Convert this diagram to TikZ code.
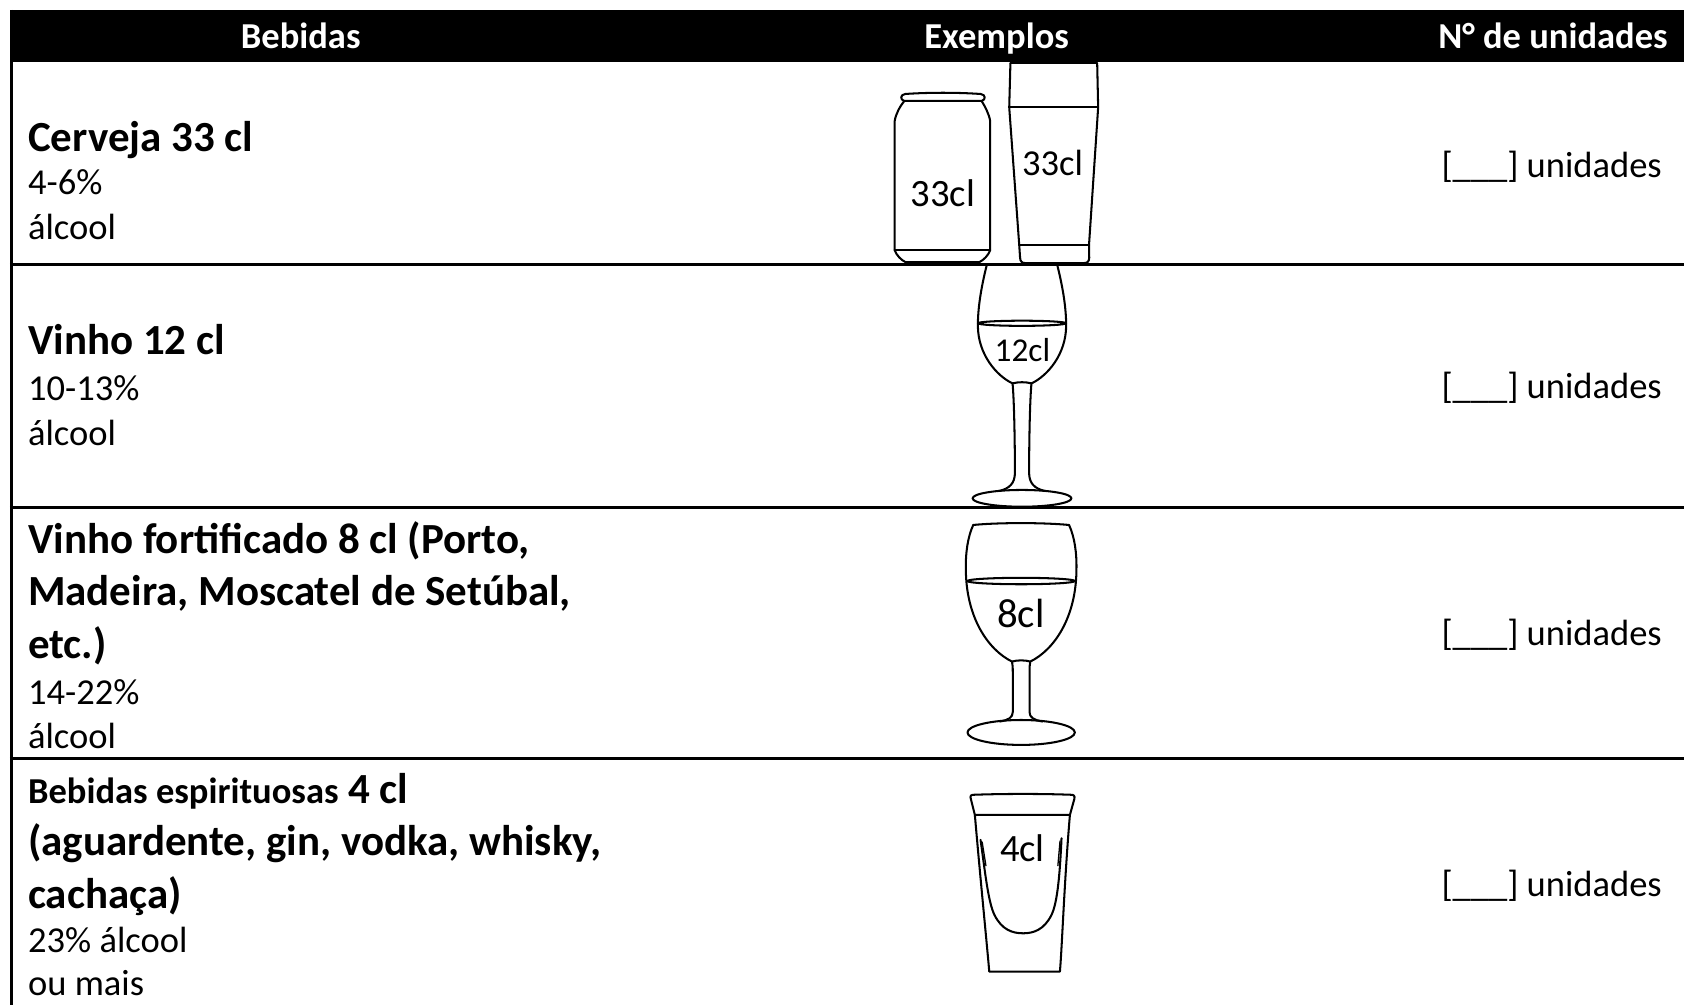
\documentclass[tikz,border=0pt]{standalone}
\usepackage{fontspec}
\setmainfont{Carlito}
\begin{document}
\begin{tikzpicture}[x=1pt,y=-1pt,
  hd/.style={text=white,font=\bfseries\fontsize{34}{40}\selectfont,anchor=base,inner sep=0},
  bt/.style={font=\bfseries\fontsize{40}{48}\selectfont,anchor=base west,inner sep=0},
  bs/.style={font=\bfseries\fontsize{34}{41}\selectfont,anchor=base west,inner sep=0},
  nt/.style={font=\fontsize{34}{41}\selectfont,anchor=base west,inner sep=0},
  un/.style={font=\fontsize{34}{41}\selectfont,anchor=base west,inner sep=0},
  lbl/.style={font=\fontsize{36}{40}\selectfont,inner sep=0},
  rule/.style={line width=2.8pt},
  gl/.style={line width=1.9pt,line join=round,line cap=round}]
\useasboundingbox (0,0) rectangle (1568,936);
% header
\fill[black] (9.3,9.3) rectangle (1568,57.7);
\node[hd] (h1) at (280,45) {Bebidas};
\node[hd] (h2) at (928,45) {Exemplos};
\node[hd] (h3) at (1446,45) {N° de unidades};
% borders
\draw[rule] (10.7,9.3) -- (10.7,936);
\draw[rule] (9.3,246) -- (1568,246);
\draw[rule] (9.3,473) -- (1568,473);
\draw[rule] (9.3,706) -- (1568,706);
% row 1
\node[bt] (r1a) at (26,141) {Cerveja 33 cl};
\node[nt] (r1b) at (26,181) {4-6\%};
\node[nt] (r1c) at (26,223) {álcool};
\node[un] (u1) at (1342,165) {[\_\_\_] unidades};
% row 2
\node[bt] (r2a) at (26,330) {Vinho 12 cl};
\node[nt] (r2b) at (26,373) {10-13\%};
\node[nt] (r2c) at (26,415) {álcool};
\node[un] (u2) at (1342,371) {[\_\_\_] unidades};
% row 3
\node[bt] (r3a) at (26,515) {Vinho fortificado 8 cl (Porto,};
\node[bt] (r3b) at (26,564) {Madeira, Moscatel de Setúbal,};
\node[bt] (r3c) at (26,613) {etc.)};
\node[nt] (r3d) at (26,656) {14-22\%};
\node[nt] (r3e) at (26,697) {álcool};
\node[un] (u3) at (1342,601) {[\_\_\_] unidades};
% row 4
\node[bt] (r4a) at (26,748) {{\fontsize{34}{41}\selectfont Bebidas espirituosas} 4 cl};
\node[bt] (r4b) at (26,797) {(aguardente, gin, vodka, whisky,};
\node[bt] (r4c) at (26,846) {cachaça)};
\node[nt] (r4d) at (26,887) {23\% álcool};
\node[nt] (r4e) at (26,927) {ou mais};
\node[un] (u4) at (1342,835) {[\_\_\_] unidades};
% can
\draw[gl] (842,94) .. controls (838,99) and (834,106) .. (833,113) -- (833,233) .. controls (835,238) and (839,242) .. (843,244) -- (912,244) .. controls (916,242) and (920,238) .. (922,233) -- (922,113) .. controls (921,106) and (917,99) .. (914,94);
\draw[gl] (842,94) .. controls (838,93) and (838,88) .. (843,87.5) .. controls (865,86) and (891,86) .. (913,87.5) .. controls (918,88) and (918,93) .. (914,94) -- cycle;
\draw[gl] (833,233) -- (922,233);
\node[lbl] (lcan) at (878,180) {33cl};
% pint
\draw[gl] (940.8,59) -- (1021.6,59);
\draw[gl] (940.8,59) -- (939.7,100) -- (949,228) -- (949.8,240) .. controls (950,243.5) and (951.5,245) .. (955,245) -- (1009,245) .. controls (1012.5,245) and (1014,243.5) .. (1014.2,240) -- (1014,228) -- (1022.5,100) -- (1021.6,59);
\draw[gl] (939.7,100) -- (1022.5,100);
\draw[gl] (949,228) -- (1014,228);
\node[lbl,font=\fontsize{34}{40}\selectfont] (lpint) at (980,152) {33cl};
% wine 12cl
\draw[gl] (918.6,247.5) .. controls (913,270) and (910.5,288) .. (910.5,303) .. controls (910.5,330) and (928,350) .. (942.8,357) .. controls (944.5,375) and (945,420) .. (945,440) .. controls (945,450) and (940,455) .. (930,457.2);
\draw[gl] (984.6,247.5) .. controls (990.2,270) and (992.7,288) .. (992.7,303) .. controls (992.7,330) and (975.2,350) .. (960.4,357) .. controls (958.7,375) and (958.2,420) .. (958.2,440) .. controls (958.2,450) and (963.2,455) .. (973.2,457.2);
\draw[gl] (942.8,357) .. controls (948,355.5) and (955,355.5) .. (960.4,357);
\draw[gl] (951.6,301) ellipse [x radius=41pt, y radius=2.4pt];
\draw[gl] (951.6,464) ellipse [x radius=46pt, y radius=7.8pt];
\node[lbl,font=\fontsize{31}{36}\selectfont] (l12) at (952,326) {12cl};
% wine 8cl
\draw[gl] (906.2,488.8) .. controls (930,486.5) and (971,486.5) .. (995.4,488.8);
\draw[gl] (906.2,488.8) .. controls (901,500) and (899,515) .. (899.3,530) .. controls (899.5,575) and (920,605) .. (942.3,616) .. controls (943,619) and (943,622) .. (943,627) -- (943,663) .. controls (943,668) and (939,670.5) .. (931,671.8);
\draw[gl] (995.4,488.8) .. controls (1000.6,500) and (1002.6,515) .. (1002.3,530) .. controls (1002.1,575) and (981.6,605) .. (959.3,616) .. controls (958.6,619) and (958.6,622) .. (958.6,627) -- (958.6,663) .. controls (958.6,668) and (962.6,670.5) .. (970.6,671.8);
\draw[gl] (942.3,616) .. controls (947,614.5) and (954.6,614.5) .. (959.3,616);
\draw[gl] (950.8,541) ellipse [x radius=50pt, y radius=3pt];
\draw[gl] (950.8,682) ellipse [x radius=50pt, y radius=11.6pt];
\node[lbl,font=\fontsize{38}{42}\selectfont] (l8) at (950.5,571) {8cl};
% shot glass
\draw[gl] (907.7,758.8) -- (904,744) .. controls (903,741) and (904,740) .. (907,740) .. controls (935,739) and (970,739) .. (997,740) .. controls (1000,740) and (1001,741) .. (1000.3,744) -- (996.2,758.8) -- cycle;
\draw[gl] (907.7,758.8) .. controls (913,820) and (919,880) .. (921.1,904.6) -- (986.9,904.6) .. controls (989,880) and (991,820) .. (996.2,758.8);
\draw[gl] (913,782) .. controls (917,810) and (920,840) .. (926,852) .. controls (933,866) and (943,869) .. (952.7,869) .. controls (962,869) and (972,866) .. (979,852) .. controls (985,840) and (987,810) .. (988.4,780.5);
\draw[gl,line width=1.2pt] (914.5,784) -- (918,806);
\draw[gl,line width=1.2pt] (987,783) -- (985,806);
\node[lbl] (l4) at (952,790) {4cl};
\end{tikzpicture}
\end{document}
